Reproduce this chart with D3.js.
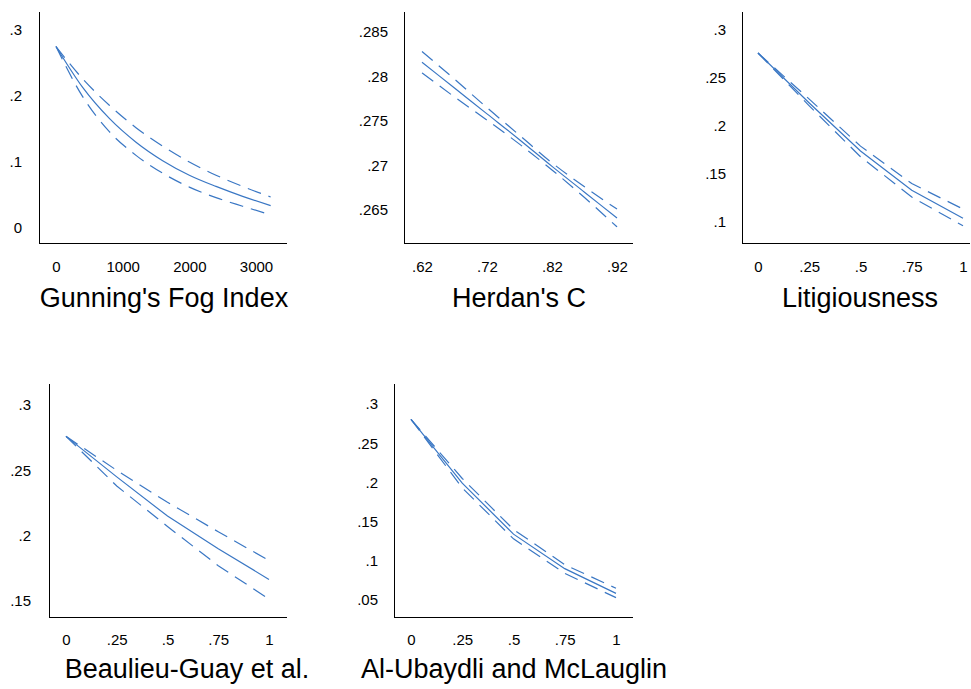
<!DOCTYPE html>
<html>
<head>
<meta charset="utf-8">
<script src="https://cdn.jsdelivr.net/npm/d3@7"></script>
<style>
  body { margin: 0; background: #fff; }
  svg { display: block; font-family: "Liberation Sans", Arial, Helvetica, sans-serif; }
  .tick text { font-size: 15px; fill: #000; }
  .title { font-size: 27px; fill: #000; }
</style>
</head>
<body>
<div id="chart"></div>
<script>
// ---- data (predicted value + upper/lower CI) ----
const fogX      = [0, 400, 800, 1200, 1600, 2000, 2400, 2800, 3220];
const fogFit    = [0.275, 0.213, 0.166, 0.130, 0.102, 0.080, 0.063, 0.048, 0.034];
const fogUpper  = [0.275, 0.226, 0.186, 0.152, 0.124, 0.100, 0.080, 0.063, 0.047];
const fogLower  = [0.275, 0.199, 0.146, 0.110, 0.083, 0.062, 0.046, 0.033, 0.020];

const herdanX     = [0.62, 0.67, 0.72, 0.77, 0.82, 0.87, 0.92];
const herdanFit   = [0.2816, 0.2787, 0.2758, 0.2729, 0.2699, 0.2670, 0.2641];
const herdanUpper = [0.2828, 0.2797, 0.2765, 0.2734, 0.2703, 0.2676, 0.2651];
const herdanLower = [0.2804, 0.2777, 0.2751, 0.2724, 0.2695, 0.2664, 0.2631];

const unitX = [0, 0.25, 0.5, 0.75, 1];

const litFit   = [0.276, 0.224, 0.174, 0.133, 0.104];
const litUpper = [0.276, 0.228, 0.179, 0.140, 0.1135];
const litLower = [0.276, 0.221, 0.168, 0.126, 0.096];

const bgFit   = [0.276, 0.245, 0.215, 0.190, 0.1665];
const bgUpper = [0.276, 0.250, 0.2255, 0.203, 0.181];
const bgLower = [0.276, 0.238, 0.207, 0.177, 0.1515];

const aumFit   = [0.2805, 0.199, 0.134, 0.090, 0.0585];
const aumUpper = [0.2805, 0.205, 0.140, 0.095, 0.065];
const aumLower = [0.2805, 0.193, 0.128, 0.084, 0.053];

// tick values
const fogXTicks = [0, 1000, 2000, 3000];
const fogYTicks = [0, 0.1, 0.2, 0.3];
const herdanXTicks = [0.62, 0.72, 0.82, 0.92];
const herdanYTicks = [0.265, 0.27, 0.275, 0.28, 0.285];
const unitXTicks = [0, 0.25, 0.5, 0.75, 1];
const litYTicks = [0.1, 0.15, 0.2, 0.25, 0.3];
const bgYTicks = [0.15, 0.2, 0.25, 0.3];
const aumYTicks = [0.05, 0.1, 0.15, 0.2, 0.25, 0.3];

const titles = ["Gunning's Fog Index", "Herdan's C", "Litigiousness",
                "Beaulieu-Guay et al.", "Al-Ubaydli and McLauglin"];

// ---- layout of each panel (pixels) ----
const panels = [
  { title: titles[0], x: fogX, fit: fogFit, upper: fogUpper, lower: fogLower,
    xTicks: fogXTicks, yTicks: fogYTicks,
    box: { left: 39, right: 287, top: 12, bottom: 243 },
    xMap: [0, 56, 3000, 256], yMap: [0, 228, 0.3, 30],
    yPad: 17, xPad: 18, titleX: 164, titleY: 307, curve: d3.curveMonotoneX },
  { title: titles[1], x: herdanX, fit: herdanFit, upper: herdanUpper, lower: herdanLower,
    xTicks: herdanXTicks, yTicks: herdanYTicks,
    box: { left: 404, right: 633, top: 12, bottom: 243 },
    xMap: [0.62, 422, 0.92, 617], yMap: [0.265, 210, 0.285, 32],
    yPad: 16, xPad: 18, titleX: 519, titleY: 307, curve: d3.curveMonotoneX },
  { title: titles[2], x: unitX, fit: litFit, upper: litUpper, lower: litLower,
    xTicks: unitXTicks, yTicks: litYTicks,
    box: { left: 742, right: 970, top: 12, bottom: 243 },
    xMap: [0, 758, 1, 963], yMap: [0.1, 222, 0.3, 30],
    yPad: 16, xPad: 18, titleX: 860, titleY: 307, curve: d3.curveLinear },
  { title: titles[3], x: unitX, fit: bgFit, upper: bgUpper, lower: bgLower,
    xTicks: unitXTicks, yTicks: bgYTicks,
    box: { left: 49, right: 287, top: 384, bottom: 617 },
    xMap: [0, 66, 1, 269], yMap: [0.15, 601, 0.3, 405],
    yPad: 18, xPad: 17, titleX: 187, titleY: 678, curve: d3.curveLinear },
  { title: titles[4], x: unitX, fit: aumFit, upper: aumUpper, lower: aumLower,
    xTicks: unitXTicks, yTicks: aumYTicks,
    box: { left: 394, right: 633, top: 384, bottom: 617 },
    xMap: [0, 411, 1, 616], yMap: [0.05, 600, 0.3, 404],
    yPad: 16, xPad: 17, titleX: 514, titleY: 678, curve: d3.curveLinear }
];

const lineColor = "#3a77c4";
const fmt = v => String(+v.toFixed(4)).replace(/^0\./, ".");

const svg = d3.select("#chart").append("svg")
  .attr("width", 971)
  .attr("height", 689);

panels.forEach(p => {
  const g = svg.append("g");

  const x = d3.scaleLinear().domain([p.xMap[0], p.xMap[2]]).range([p.xMap[1], p.xMap[3]]);
  const y = d3.scaleLinear().domain([p.yMap[0], p.yMap[2]]).range([p.yMap[1], p.yMap[3]]);

  // axis lines (no tick marks in the original)
  g.append("line")
    .attr("x1", p.box.left + 0.5).attr("x2", p.box.left + 0.5)
    .attr("y1", p.box.top).attr("y2", p.box.bottom + 0.5)
    .attr("stroke", "#000").attr("stroke-width", 1);
  g.append("line")
    .attr("x1", p.box.left).attr("x2", p.box.right)
    .attr("y1", p.box.bottom + 0.5).attr("y2", p.box.bottom + 0.5)
    .attr("stroke", "#000").attr("stroke-width", 1);

  const yAxis = d3.axisLeft(y).tickValues(p.yTicks).tickSize(0).tickPadding(p.yPad).tickFormat(fmt);
  g.append("g")
    .attr("transform", `translate(${p.box.left},0)`)
    .call(yAxis)
    .call(a => a.select(".domain").remove());

  const xAxis = d3.axisBottom(x).tickValues(p.xTicks).tickSize(0).tickPadding(p.xPad).tickFormat(fmt);
  g.append("g")
    .attr("transform", `translate(0,${p.box.bottom})`)
    .call(xAxis)
    .call(a => a.select(".domain").remove());

  const line = d3.line()
    .x(d => x(d[0]))
    .y(d => y(d[1]))
    .curve(p.curve);

  const series = [
    { vals: p.upper, dash: "14,8" },
    { vals: p.lower, dash: "14,8" },
    { vals: p.fit, dash: null }
  ];
  series.forEach(s => {
    g.append("path")
      .datum(p.x.map((v, i) => [v, s.vals[i]]))
      .attr("d", line)
      .attr("fill", "none")
      .attr("stroke", lineColor)
      .attr("stroke-width", 1.2)
      .attr("stroke-dasharray", s.dash);
  });

  g.append("text")
    .attr("class", "title")
    .attr("x", p.titleX)
    .attr("y", p.titleY)
    .attr("text-anchor", "middle")
    .text(p.title);
});
</script>
</body>
</html>
